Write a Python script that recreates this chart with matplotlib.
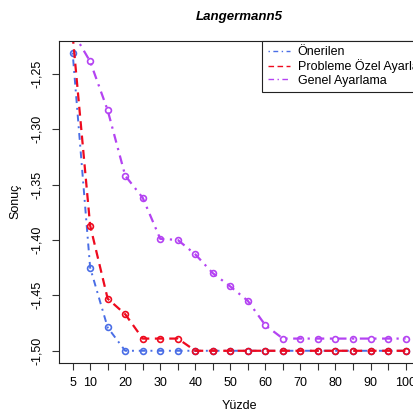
import numpy as np
import matplotlib
matplotlib.use('Agg')
import matplotlib.pyplot as plt

plt.rcParams['font.family'] = ['Liberation Sans', 'DejaVu Sans']

# data
yuzde = [5, 10, 15, 20, 25, 30, 35, 40, 45, 50, 55, 60, 65, 70, 75, 80, 85, 90, 95, 100]
onerilen = [-1.231, -1.425, -1.479, -1.50, -1.50, -1.50, -1.50, -1.50, -1.50, -1.50,
            -1.50, -1.50, -1.50, -1.50, -1.50, -1.50, -1.50, -1.50, -1.50, -1.50]
probleme_ozel = [-1.215, -1.387, -1.453, -1.467, -1.489, -1.489, -1.489, -1.50, -1.50, -1.50,
                 -1.50, -1.50, -1.50, -1.50, -1.50, -1.50, -1.50, -1.50, -1.50, -1.50]
genel = [-1.212, -1.239, -1.283, -1.342, -1.362, -1.399, -1.40, -1.413, -1.430, -1.442,
         -1.455, -1.477, -1.489, -1.489, -1.489, -1.489, -1.489, -1.489, -1.489, -1.489]

xtick_pos = yuzde
xtick_lab = ['5', '10', '', '20', '', '30', '', '40', '', '50', '', '60', '', '70', '', '80', '', '90', '', '100']
ytick_pos = [-1.50, -1.45, -1.40, -1.35, -1.30, -1.25]
ytick_lab = ['-1,50', '-1,45', '-1,40', '-1,35', '-1,30', '-1,25']

c_blue = '#4a6ee6'
c_red = '#ee0a1e'
c_purple = '#b443f2'

fig = plt.figure(figsize=(4.13, 4.15), dpi=100)
W, H = 413.0, 415.0
ax = fig.add_axes([59.3 / W, (H - 362.7) / H, (418.9 - 59.3) / W, (362.7 - 40.7) / H])

ax.plot(yuzde, onerilen, color=c_blue, lw=1.4, dashes=(1, 2.5, 3.5, 2.5),
        marker='o', ms=4.2, mfc='none', mew=1.2, label='Önerilen')
ax.plot(yuzde, probleme_ozel, color=c_red, lw=1.6, dashes=(4, 2.5),
        marker='o', ms=4.2, mfc='none', mew=1.2, label='Probleme Özel Ayarlama')
ax.plot(yuzde, genel, color=c_purple, lw=1.6, dashes=(4, 2.5, 1, 2.5),
        marker='o', ms=4.2, mfc='none', mew=1.2, label='Genel Ayarlama')

# R style 4% range extension, y range from the first series
ax.set_xlim(1.2, 103.8)
ymin, ymax = min(onerilen), max(onerilen)
ext = 0.04 * (ymax - ymin)
ax.set_ylim(ymin - ext, ymax + ext)

ax.set_xticks(xtick_pos)
ax.set_xticklabels(xtick_lab)
ax.set_yticks(ytick_pos)
ax.set_yticklabels(ytick_lab, rotation=90, va='center')
ax.tick_params(axis='both', length=5, width=0.8, labelsize=9, pad=5.5, color='#333333')
ax.tick_params(axis='y', pad=6.5)

for s in ax.spines.values():
    s.set_linewidth(0.8)
    s.set_color('#222222')

ax.set_title('Langermann5', fontsize=9.5, fontweight='bold', fontstyle='italic', pad=15)
ax.set_xlabel('Yüzde', fontsize=9)
ax.set_ylabel('Sonuç', fontsize=9)
ax.xaxis.set_label_coords(0.5, -0.117)
ax.yaxis.set_label_coords(-0.105, 0.5)

leg = ax.legend(loc='upper left', bbox_to_anchor=((262 - 59.3) / 359.6, 1.0),
                borderaxespad=0, fancybox=False, edgecolor='#222222', framealpha=1,
                fontsize=9, handlelength=1.8, handletextpad=0.6, labelspacing=0.1,
                borderpad=0.45, numpoints=1, markerscale=0)
leg.get_frame().set_linewidth(0.8)
for line in leg.get_lines():
    line.set_linewidth(1.0)
    line.set_marker('')

plt.savefig('out.png', dpi=100)
plt.close()
